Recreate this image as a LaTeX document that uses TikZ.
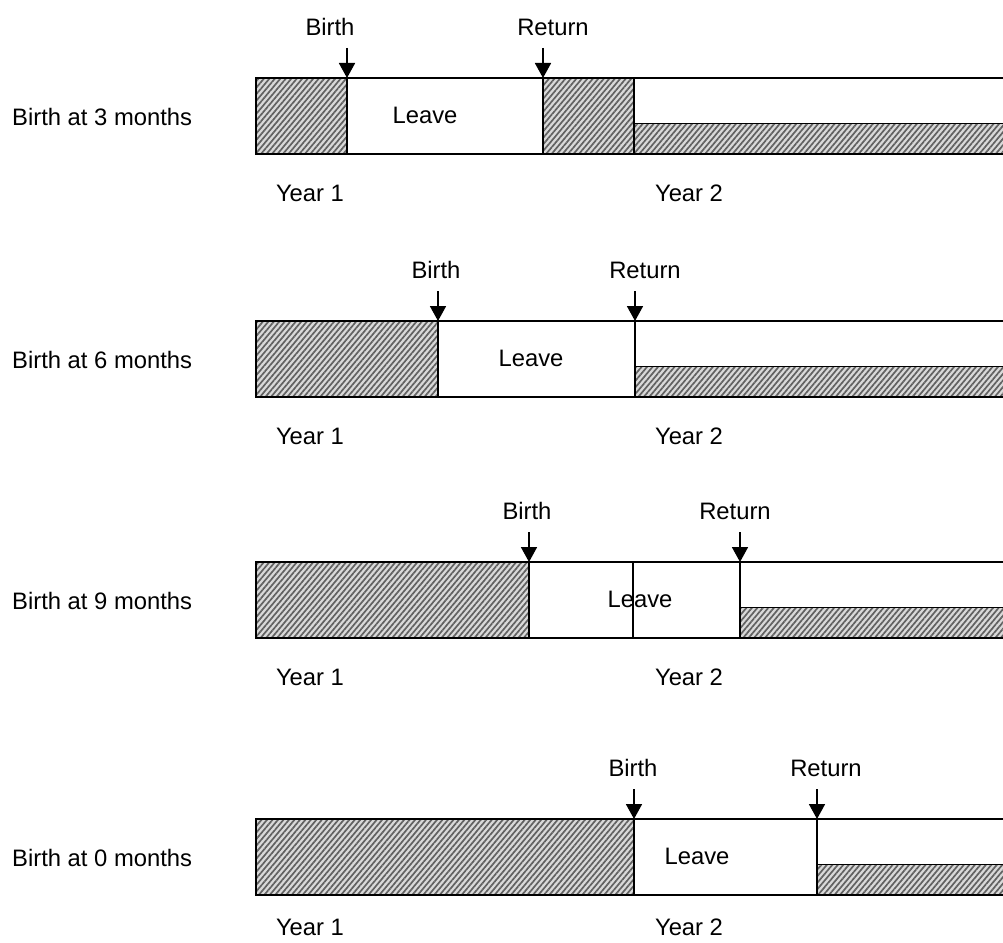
\documentclass[tikz,border=0pt]{standalone}
\usepackage{fontspec}
\setmainfont{Liberation Sans}
\usetikzlibrary{arrows.meta,patterns.meta}
\tikzset{
  hatch/.style={fill=black!15, postaction={pattern={Lines[angle=50,distance=4.2pt,line width=1.7pt]}, pattern color=black!62}},
  outline/.style={draw=black, line width=1.8pt},
  arr/.style={line width=1.8pt, -{Triangle[width=16pt,length=15pt]}},
  lbl/.style={inner sep=0pt, text height=17pt, text depth=0pt, font=\fontsize{23.8}{28}\selectfont},
}
\begin{document}
\begin{tikzpicture}[x=1pt,y=-1pt]
\useasboundingbox (0,0) rectangle (1003,942);
\clip (0,0) rectangle (1003,942);
\foreach \T/\b/\r/\s/\n/\lx/\bx/\rx/\yo [count=\i] in {
  78/347/543/634/3/425/330/553/114.5,
  321/438/635/635/6/531/436/645/114.5,
  562/529/740/740/9/640/527/735/114.5,
  819/634/817/817/0/697/633/826/108}{
  % hatched areas
  \fill[hatch] (256,\T) rectangle (\b,\T+76);
  \fill[hatch] (\s,\T+45.5) rectangle (1012,\T+76);
  \ifnum\i=1 \fill[hatch] (\r,\T) rectangle (\s,\T+76); \fi
  % outlines
  \draw[outline] (256,\T) rectangle (1012,\T+76);
  \draw[outline] (\b,\T) -- (\b,\T+76);
  \draw[outline] (\r,\T) -- (\r,\T+76);
  \draw[outline] (\s,\T) -- (\s,\T+76);
  \draw[outline] (\s,\T+45.5) -- (1012,\T+45.5);
  \ifnum\i=3 \draw[outline] (633,\T) -- (633,\T+76); \fi
  % labels
  \node[lbl, anchor=west] (row\i) at (12,\T+39) {Birth at \n\ months};
  \node[lbl] (leave\i) at (\lx,\T+37) {Leave};
  \node[lbl] (birth\i) at (\bx,\T-51) {Birth};
  \node[lbl] (return\i) at (\rx,\T-51) {Return};
  \node[lbl] (yearone\i) at (310,\T+\yo) {Year 1};
  \node[lbl] (yeartwo\i) at (689,\T+\yo) {Year 2};
  % arrows
  \coordinate (bs\i) at (\b,\T-30);
  \coordinate (be\i) at (\b,\T);
  \coordinate (rs\i) at (\r,\T-30);
  \coordinate (re\i) at (\r,\T);
  \draw[arr] (bs\i) -- (be\i);
  \draw[arr] (rs\i) -- (re\i);
}
\end{tikzpicture}
\end{document}
